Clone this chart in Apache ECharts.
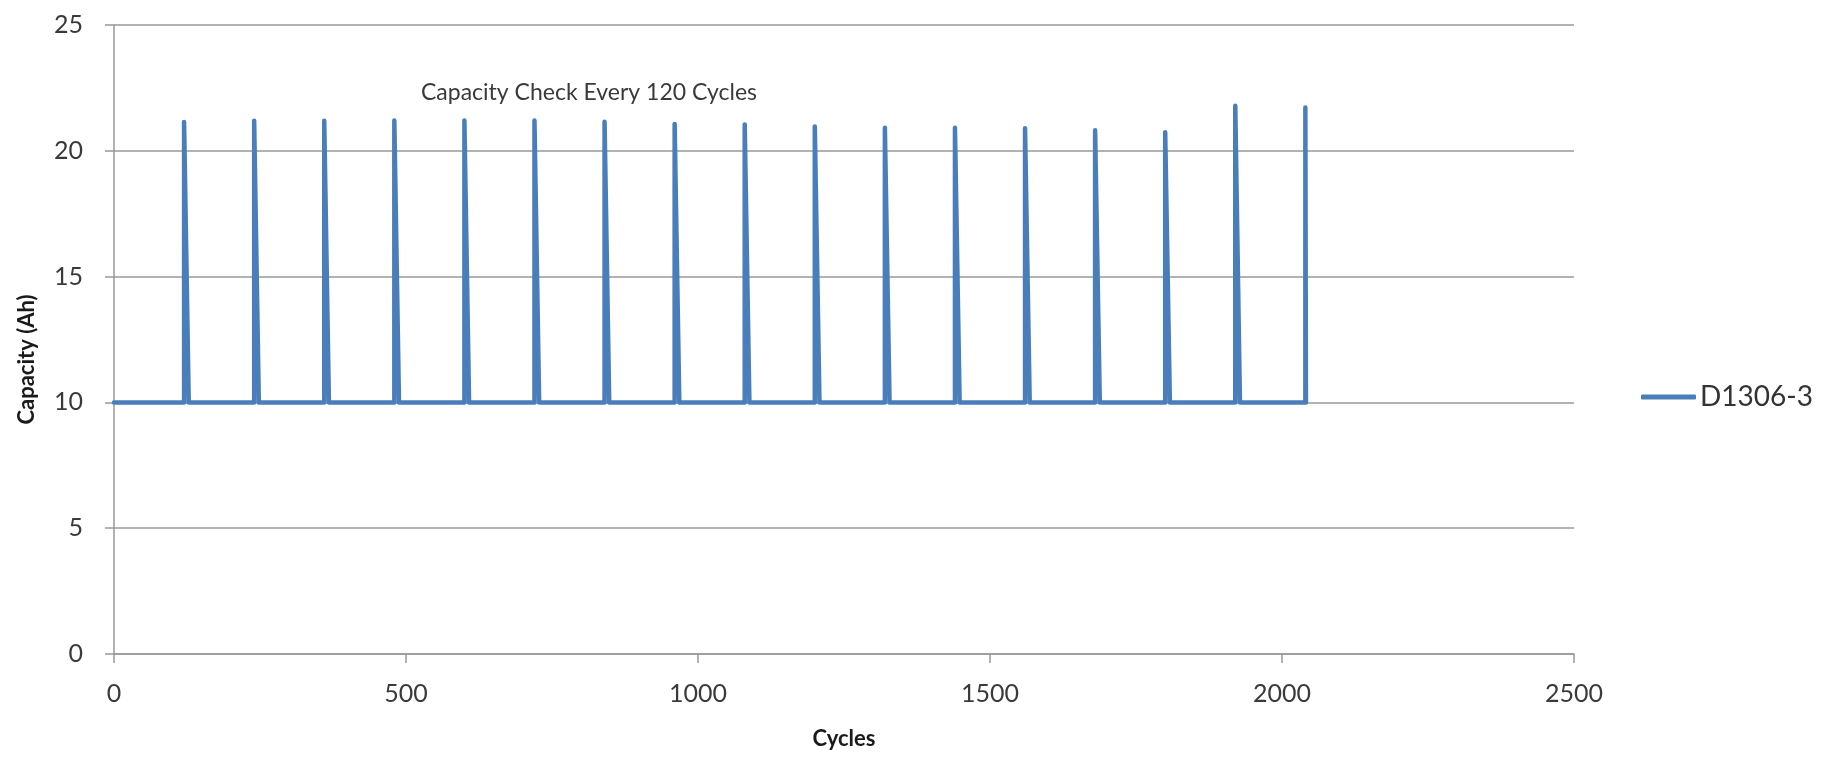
<!DOCTYPE html>
<html>
<head>
<meta charset="utf-8">
<script src="https://cdn.jsdelivr.net/npm/echarts@6/dist/echarts.min.js"></script>
<style>
  html, body { margin: 0; padding: 0; background: #ffffff; }
  #chart { width: 1826px; height: 762px; }
</style>
</head>
<body>
<div id="chart"></div>
<script>
// Cycle numbers of each plotted point
const cycles = [0,
  120, 120, 128,
  240, 240, 248,
  360, 360, 368,
  480, 480, 488,
  600, 600, 608,
  720, 720, 728,
  840, 840, 848,
  960, 960, 968,
  1080, 1080, 1088,
  1200, 1200, 1208,
  1320, 1320, 1328,
  1440, 1440, 1448,
  1560, 1560, 1568,
  1680, 1680, 1688,
  1800, 1800, 1808,
  1920, 1920, 1928,
  2040, 2040, 2041];
// Capacity (Ah) at each point
const capacity = [10,
  10, 21.14, 10,
  10, 21.19, 10,
  10, 21.19, 10,
  10, 21.2, 10,
  10, 21.2, 10,
  10, 21.2, 10,
  10, 21.15, 10,
  10, 21.07, 10,
  10, 21.05, 10,
  10, 20.97, 10,
  10, 20.92, 10,
  10, 20.92, 10,
  10, 20.9, 10,
  10, 20.82, 10,
  10, 20.74, 10,
  10, 21.79, 10,
  10, 21.72, 10];

const seriesName = 'D1306-3';
const xTicks = { min: 0, max: 2500, interval: 500 };
const yTicks = { min: 0, max: 25, interval: 5 };
const annotationText = 'Capacity Check Every 120 Cycles';
const xTitle = 'Cycles';
const yTitle = 'Capacity (Ah)';

const points = cycles.map((c, i) => [c, capacity[i]]);

const chart = echarts.init(document.getElementById('chart'), null, { renderer: 'canvas' });
const FONT = 'Lato';
const gray = '#999999';

chart.setOption({
  animation: false,
  backgroundColor: '#ffffff',
  grid: { left: 114, right: 252, top: 25, bottom: 108, containLabel: false },
  xAxis: {
    type: 'value',
    min: xTicks.min, max: xTicks.max, interval: xTicks.interval,
    name: xTitle,
    nameLocation: 'middle',
    nameGap: 74,
    nameTextStyle: { fontFamily: FONT, fontSize: 22, fontWeight: 'bold', color: '#1a1a1a' },
    axisLine: { show: true, onZero: false, lineStyle: { color: gray, width: 1.5 } },
    axisTick: { show: true, inside: false, length: 9, lineStyle: { color: gray, width: 1.5 } },
    axisLabel: { margin: 27, fontFamily: FONT, fontSize: 25, color: '#3a3a3a', formatter: v => String(v) },
    splitLine: { show: false }
  },
  yAxis: {
    type: 'value',
    min: yTicks.min, max: yTicks.max, interval: yTicks.interval,
    name: yTitle,
    nameLocation: 'middle',
    nameGap: 76,
    nameTextStyle: { fontFamily: FONT, fontSize: 22, fontWeight: 'bold', color: '#1a1a1a', padding: [0, 40, 0, 0] },
    axisLine: { show: true, lineStyle: { color: gray, width: 1.5 } },
    axisTick: { show: true, inside: false, length: 9, lineStyle: { color: gray, width: 1.5 } },
    axisLabel: { margin: 31, fontFamily: FONT, fontSize: 25, color: '#3a3a3a', formatter: v => String(v) },
    splitLine: { show: true, lineStyle: { color: gray, width: 1.5 } }
  },
  legend: {
    data: [{ name: seriesName, icon: 'roundRect' }],
    orient: 'vertical',
    left: 1636,
    top: 378,
    itemWidth: 55,
    itemHeight: 5,
    textStyle: { fontFamily: FONT, fontSize: 28, color: '#333333', padding: [0, 0, 0, -1] }
  },
  graphic: [{
    type: 'text',
    x: 589,
    y: 93,
    style: {
      text: annotationText,
      fontFamily: FONT,
      fontSize: 23,
      fill: '#3a3a3a',
      textAlign: 'center',
      textVerticalAlign: 'middle'
    }
  }],
  series: [{
    name: seriesName,
    type: 'line',
    data: points,
    showSymbol: false,
    symbol: 'none',
    color: '#4a7ebb',
    lineStyle: { color: '#4a7ebb', width: 4.5, join: 'round', cap: 'round' }
  }]
});
</script>
</body>
</html>
